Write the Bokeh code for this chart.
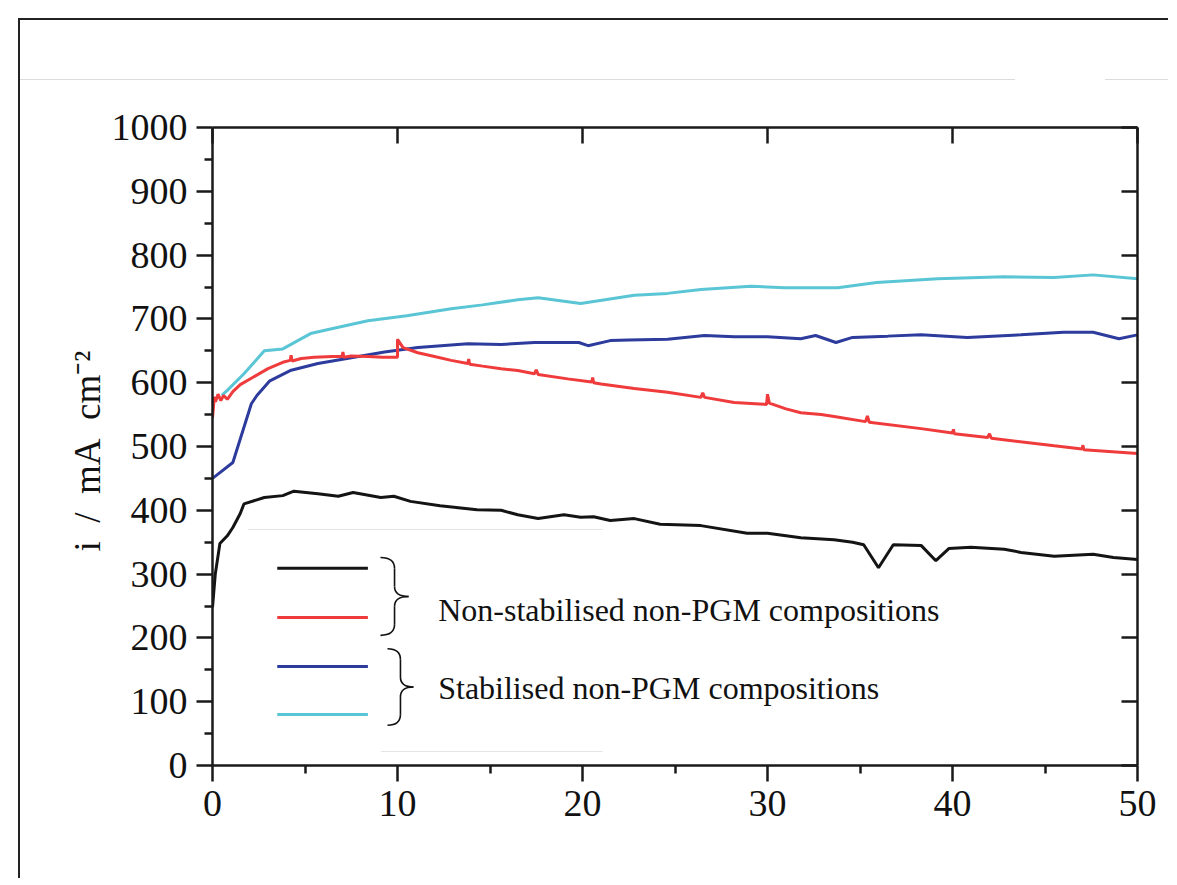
import math
from bokeh.plotting import figure
from bokeh.models import LinearAxis, Range1d, FixedTicker
from bokeh.core.properties import value
from bokeh.embed import file_html
from bokeh.resources import INLINE

# ---------------- data ----------------
black_x = [0, 0.15, 0.4, 0.8, 1.1, 1.5, 1.7, 2.8, 3.8, 4.4, 5.7, 6.8, 7.6, 9.1, 9.8, 10.7, 12.3,
           14.3, 15.6, 16.5, 17.6, 19.0, 19.9, 20.6, 21.5, 22.8, 24.2, 26.4, 28.9, 30.0, 31.8,
           33.6, 34.6, 35.2, 36.0, 36.8, 38.3, 39.1, 39.8, 41.0, 42.8, 43.7, 45.5, 47.6, 48.7, 50]
black_y = [248, 300, 348, 360, 373, 395, 410, 420, 423, 430, 426, 422, 428, 420, 422, 414, 407,
           401, 400, 393, 387, 393, 389, 390, 384, 387, 378, 376, 364, 364, 357,
           354, 350, 346, 310, 346, 345, 321, 340, 342, 339, 334, 328, 331, 326, 323]

red_x = [0, 0.1, 0.16, 0.3, 0.45, 0.6, 0.8, 1.1, 1.5, 2.1, 3.0, 3.8, 4.2, 4.25, 4.3, 4.8, 5.5,
         6.5, 7.0, 7.05, 7.1, 7.5, 8.4, 9.2, 10.0, 10.0, 10.3, 11.1, 12.0, 12.9, 13.8, 13.85,
         13.9, 14.6, 15.6, 16.5, 17.4, 17.5, 17.6, 19.2, 20.5, 20.55, 20.6, 21.0, 22.8, 24.6,
         26.4, 26.5, 26.6, 28.2, 29.95, 30.0, 30.1, 31.0, 31.8, 32.9, 33.6, 35.3, 35.4, 35.5,
         38.3, 40.0, 40.05, 40.1, 41.9, 42.0, 42.1, 45.5, 47.0, 47.05, 47.1, 50]
red_y = [545, 578, 570, 582, 572, 580, 574, 586, 597, 607, 622, 632, 635, 643, 634, 638, 640,
         641, 641, 648, 640, 642, 641, 640, 640, 668, 655, 647, 641, 635, 630, 637,
         629, 626, 622, 619, 614, 620, 613, 606, 601, 608, 600, 598, 591, 585,
         577, 584, 577, 569, 566, 582, 568, 559, 553, 550, 547, 539, 548, 538,
         528, 521, 527, 520, 514, 520, 513, 501, 496, 502, 495, 489]

blue_x = [0, 1.1, 2.1, 2.4, 3.1, 4.2, 5.7, 7.5, 9.3, 11.1, 13.8, 15.6, 17.4, 19.2, 19.8, 20.3,
          21.5, 22.5, 24.6, 26.6, 28.2, 30.0, 31.8, 32.6, 33.7, 34.6, 36.5, 38.3, 40.8, 43.7,
          46.0, 47.6, 49.0, 50]
blue_y = [450, 475, 567, 580, 603, 619, 630, 639, 648, 655, 661, 660, 663, 663, 663, 658,
          666, 667, 668, 674, 672, 672, 669, 674, 663, 671, 673, 675, 671, 675,
          679, 679, 669, 675]

cyan_x = [0.5, 0.8, 1.7, 2.8, 3.8, 5.3, 6.5, 8.4, 10.5, 12.9, 14.6, 16.5, 17.6, 19.9, 22.8,
          24.6, 26.4, 29.1, 30.9, 33.8, 35.9, 39.2, 42.8, 45.5, 47.6, 50]
cyan_y = [580, 588, 614, 650, 653, 677, 685, 697, 705, 716, 722, 730, 733, 724, 737,
          740, 746, 751, 749, 749, 757, 763, 766, 765, 769, 763]

x_ticks = [0, 10, 20, 30, 40, 50]
x_minor = [5, 15, 25, 35, 45]
y_ticks = [0, 100, 200, 300, 400, 500, 600, 700, 800, 900, 1000]
y_minor = [50, 150, 250, 350, 450, 550, 650, 750, 850, 950]

legend_labels = ["Non-stabilised non-PGM compositions", "Stabilised non-PGM compositions"]
y_label = "i\u00a0\u00a0/\u00a0\u00a0mA\u00a0\u00a0cm\u207b\u00b2\u00a0"

# legend layout (data units)
legend_line_x = [3.5, 8.4]
legend_line_y = [309, 232, 155, 80]
brace_specs = [  # (left x, tip x, top y, bottom y)
    (9.08, 10.6, 326, 204),
    (9.46, 10.86, 183, 63),
]
legend_text_x = 12.2
legend_text_y = [243, 122]

colors = {"black": "#141414", "red": "#ef3b3b", "blue": "#2c3b9c", "cyan": "#5ac5d5"}
FONT = "Liberation Serif"

# ---------------- figure ----------------
p = figure(width=1150, height=860, x_range=Range1d(0, 50), y_range=Range1d(0, 1000),
           output_backend="svg", toolbar_location=None,
           min_border_left=192, min_border_top=107, min_border_right=33, min_border_bottom=115)
p.grid.visible = False
p.outline_line_color = None
p.background_fill_color = "white"
p.border_fill_color = None
p.styles = {
    "border-left": "2px solid #222222",
    "border-top": "2px solid #222222",
    "margin-left": "18px",
    "margin-top": "18px",
    "background": ("linear-gradient(#dcdcdc,#dcdcdc) 0px 59px / 995px 1px no-repeat, "
                   "linear-gradient(#dcdcdc,#dcdcdc) 1085px 59px / 65px 1px no-repeat, #ffffff"),
}

AX_W = 2.5
AX_C = "#1a1a1a"

xa = p.xaxis[0]
xa.ticker = FixedTicker(ticks=x_ticks, minor_ticks=x_minor)
ya = p.yaxis[0]
ya.ticker = FixedTicker(ticks=y_ticks, minor_ticks=y_minor)
for ax in (xa, ya):
    ax.axis_line_width = AX_W
    ax.axis_line_color = AX_C
    ax.major_tick_line_width = AX_W
    ax.minor_tick_line_width = AX_W
    ax.major_tick_line_color = AX_C
    ax.minor_tick_line_color = AX_C
    ax.major_tick_in = 0
    ax.major_tick_out = 16
    ax.minor_tick_in = 0
    ax.minor_tick_out = 8
    ax.major_label_text_font = FONT
    ax.major_label_text_font_size = "38px"
    ax.major_label_text_color = "#111111"
    ax.major_label_standoff = 9
ya.axis_label = y_label
ya.axis_label_text_font = FONT
ya.axis_label_text_font_size = "37px"
ya.axis_label_text_font_style = "normal"
ya.axis_label_text_color = "#111111"
ya.axis_label_standoff = 1

for loc, rng_ticks in (("above", x_ticks), ("right", y_ticks)):
    ax = LinearAxis(ticker=FixedTicker(ticks=rng_ticks, minor_ticks=[]))
    ax.axis_line_width = AX_W
    ax.axis_line_color = AX_C
    ax.major_tick_line_width = AX_W
    ax.major_tick_line_color = AX_C
    ax.major_tick_in = 16
    ax.major_tick_out = 0
    ax.minor_tick_in = 0
    ax.minor_tick_out = 0
    ax.major_label_overrides = {t: "" for t in rng_ticks}
    ax.major_label_standoff = 0
    p.add_layout(ax, loc)

# ---------------- curves ----------------
p.line(black_x, black_y, line_color=colors["black"], line_width=3)
p.line(blue_x, blue_y, line_color=colors["blue"], line_width=3)
p.line(cyan_x, cyan_y, line_color=colors["cyan"], line_width=3)
p.line(red_x, red_y, line_color=colors["red"], line_width=3)

# ---------------- legend ----------------
for yv, c in zip(legend_line_y, ["black", "red", "blue", "cyan"]):
    p.line(legend_line_x, [yv, yv], line_color=colors[c], line_width=3)

px_per_y = 638 / 1000.0
for (x0, x1, yt, yb) in brace_specs:
    ym = (yt + yb) / 2.0
    xm = x0 + 0.5 * (x1 - x0)
    r = 11 / px_per_y
    r2 = 10 / px_per_y
    p.quadratic(x0=[x0, xm], y0=[yt, ym + r2], x1=[xm, x1], y1=[yt - r, ym],
                cx=[xm, xm], cy=[yt, ym], line_color="#111111", line_width=1.6)
    p.segment(x0=[xm, xm], y0=[yt - r, ym - r2], x1=[xm, xm], y1=[ym + r2, yb + r],
              line_color="#111111", line_width=1.6)
    p.quadratic(x0=[x1, xm], y0=[ym, yb + r], x1=[xm, x0], y1=[ym - r2, yb],
                cx=[xm, xm], cy=[ym, yb], line_color="#111111", line_width=1.6)

p.text(x=[legend_text_x] * 2, y=legend_text_y, text=legend_labels,
       text_font=value(FONT), text_font_size="32px", text_color="#111111",
       text_align="left", text_baseline="alphabetic")

# faint scan lines inside the frame
p.segment(x0=[1.9, 9.1], y0=[370, 22], x1=[21.1, 21.1], y1=[370, 22],
          line_color="#e4e4e4", line_width=1)

open("out.html", "w").write(file_html(p, INLINE))
